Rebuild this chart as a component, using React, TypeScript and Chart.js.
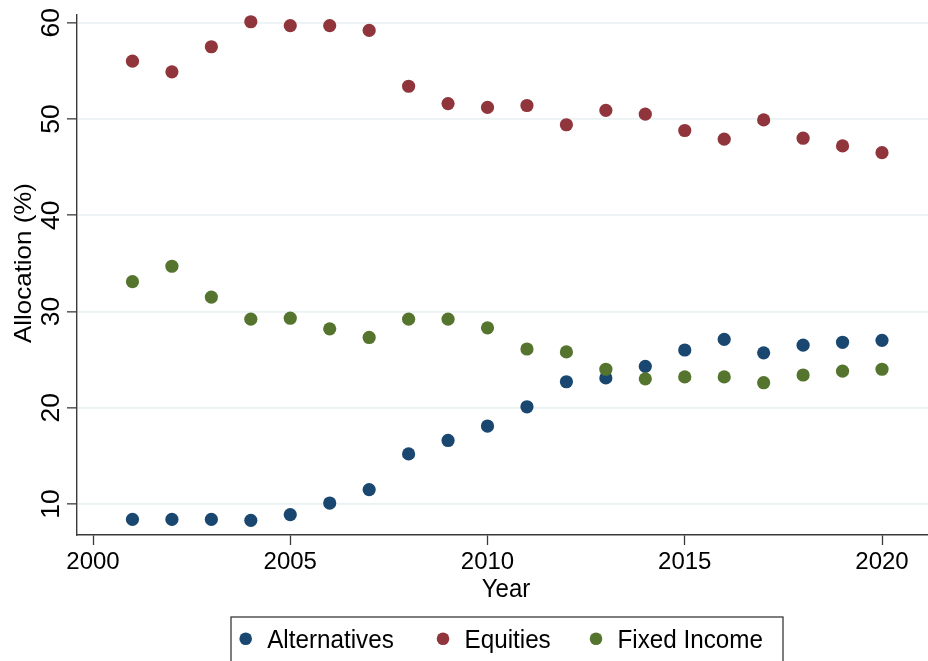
import React, { useEffect, useRef } from 'react';
import { Chart, registerables } from 'chart.js';

Chart.register(...registerables);

const years = [2001, 2002, 2003, 2004, 2005, 2006, 2007, 2008, 2009, 2010, 2011, 2012, 2013, 2014, 2015, 2016, 2017, 2018, 2019, 2020];
const alternatives = [8.4, 8.4, 8.4, 8.3, 8.9, 10.1, 11.5, 15.2, 16.6, 18.1, 20.1, 22.7, 23.1, 24.3, 26.0, 27.1, 25.7, 26.5, 26.8, 27.0];
const equities = [56.0, 54.9, 57.5, 60.1, 59.7, 59.7, 59.2, 53.4, 51.6, 51.2, 51.4, 49.4, 50.9, 50.5, 48.8, 47.9, 49.9, 48.0, 47.2, 46.5];
const fixedIncome = [33.1, 34.7, 31.5, 29.2, 29.3, 28.2, 27.3, 29.2, 29.2, 28.3, 26.1, 25.8, 24.0, 23.0, 23.2, 23.2, 22.6, 23.4, 23.8, 24.0];

const seriesNames = ['Alternatives', 'Equities', 'Fixed Income'];
const seriesColors = ['#1a476f', '#90353b', '#55752f'];
const xTicks = [2000, 2005, 2010, 2015, 2020];
const yTicks = [10, 20, 30, 40, 50, 60];
const xTitle = 'Year';
const yTitle = 'Allocation (%)';

const FONT = "'Liberation Sans', Arial, Helvetica, sans-serif";
const LEGEND_MARKER_X = [245.7, 443, 596];

const overlay = {
  id: 'overlay',
  afterDraw(chart: any) {
    const ctx: CanvasRenderingContext2D = chart.ctx;
    const yScale = chart.scales.y;
    ctx.save();
    ctx.fillStyle = '#000';
    ctx.textAlign = 'center';
    ctx.textBaseline = 'alphabetic';
    // y tick labels (rotated)
    ctx.font = `25px ${FONT}`;
    yTicks.forEach((v) => {
      const py = yScale.getPixelForValue(v);
      ctx.save();
      ctx.translate(58.5, py);
      ctx.rotate(-Math.PI / 2);
      ctx.scale(1.06, 1);
      ctx.fillText(String(v), 0, 0);
      ctx.restore();
    });
    // y title
    ctx.font = `24px ${FONT}`;
    ctx.save();
    ctx.translate(30.5, 263);
    ctx.rotate(-Math.PI / 2);
    ctx.scale(1.08, 1);
    ctx.fillText(yTitle, 0, 0);
    ctx.restore();
    // x title
    ctx.save();
    ctx.translate(506, 597);
    ctx.scale(1, 1.04);
    ctx.fillText(xTitle, 0, 0);
    ctx.restore();

    // legend
    ctx.strokeStyle = '#3a3a3a';
    ctx.lineWidth = 1.3;
    ctx.strokeRect(231, 617, 552, 60);
    ctx.font = `24px ${FONT}`;
    ctx.textAlign = 'left';
    seriesNames.forEach((name, i) => {
      const mx = LEGEND_MARKER_X[i];
      ctx.fillStyle = seriesColors[i];
      ctx.beginPath();
      ctx.arc(mx, 638.7, 6.3, 0, Math.PI * 2);
      ctx.fill();
      ctx.fillStyle = '#000';
      ctx.save();
      ctx.translate(mx + 21.5, 647.8);
      ctx.scale(1.01, 1.08);
      ctx.fillText(name, 0, 0);
      ctx.restore();
    });
    ctx.restore();
  },
};

export default function App() {
  const ref = useRef<HTMLCanvasElement | null>(null);
  useEffect(() => {
    if (!ref.current) return;
    const mk = (vals: number[]) => years.map((yr, i) => ({ x: yr, y: vals[i] }));
    const allSeries = [alternatives, equities, fixedIncome];
    const chart = new Chart(ref.current, {
      type: 'scatter',
      data: {
        datasets: allSeries.map((vals, i) => ({
          label: seriesNames[i],
          data: mk(vals),
          backgroundColor: seriesColors[i],
          borderColor: seriesColors[i],
          borderWidth: 0,
          pointRadius: 6.6,
          pointHoverRadius: 6.6,
          order: 3 - i,
        })),
      },
      options: {
        animation: false,
        responsive: false,
        devicePixelRatio: 1,
        layout: { autoPadding: false, padding: { left: 0, top: 15, right: 0, bottom: 56 } },
        plugins: { legend: { display: false }, tooltip: { enabled: false } },
        scales: {
          x: {
            type: 'linear',
            min: 1999.594,
            max: 2021.166,
            afterBuildTicks: (s: any) => { s.ticks = xTicks.map((v) => ({ value: v })); },
            afterFit: (s: any) => { s.height = 70; s.paddingLeft = 0; s.paddingRight = 0; },
            ticks: {
              font: { family: FONT, size: 24 },
              color: '#000',
              padding: 3,
              autoSkip: false,
              maxRotation: 0,
              minRotation: 0,
              callback: (v: any) => String(v),
            },
            grid: {
              drawOnChartArea: false,
              drawTicks: true,
              tickLength: 10,
              tickColor: '#3a3a3a',
              tickWidth: 1.3,
            },
            border: { display: true, color: '#3a3a3a', width: 1.4 },
          },
          y: {
            type: 'linear',
            min: 6.78,
            max: 60.8,
            afterBuildTicks: (s: any) => { s.ticks = yTicks.map((v) => ({ value: v })); },
            afterFit: (s: any) => { s.width = 77; s.paddingTop = 0; s.paddingBottom = 0; },
            ticks: { display: false },
            grid: {
              color: '#eaf2f3',
              lineWidth: 1.7,
              drawTicks: true,
              tickLength: 10,
              tickColor: '#3a3a3a',
              tickWidth: 1.3,
            },
            border: { display: true, color: '#3a3a3a', width: 1.4 },
          },
        },
      },
      plugins: [overlay],
    } as any);
    return () => chart.destroy();
  }, []);
  return (
    <div style={{ position: 'fixed', left: 0, top: 0, width: 928, height: 661, background: '#fff' }}>
      <canvas ref={ref} width={928} height={661} style={{ display: 'block' }} />
    </div>
  );
}
